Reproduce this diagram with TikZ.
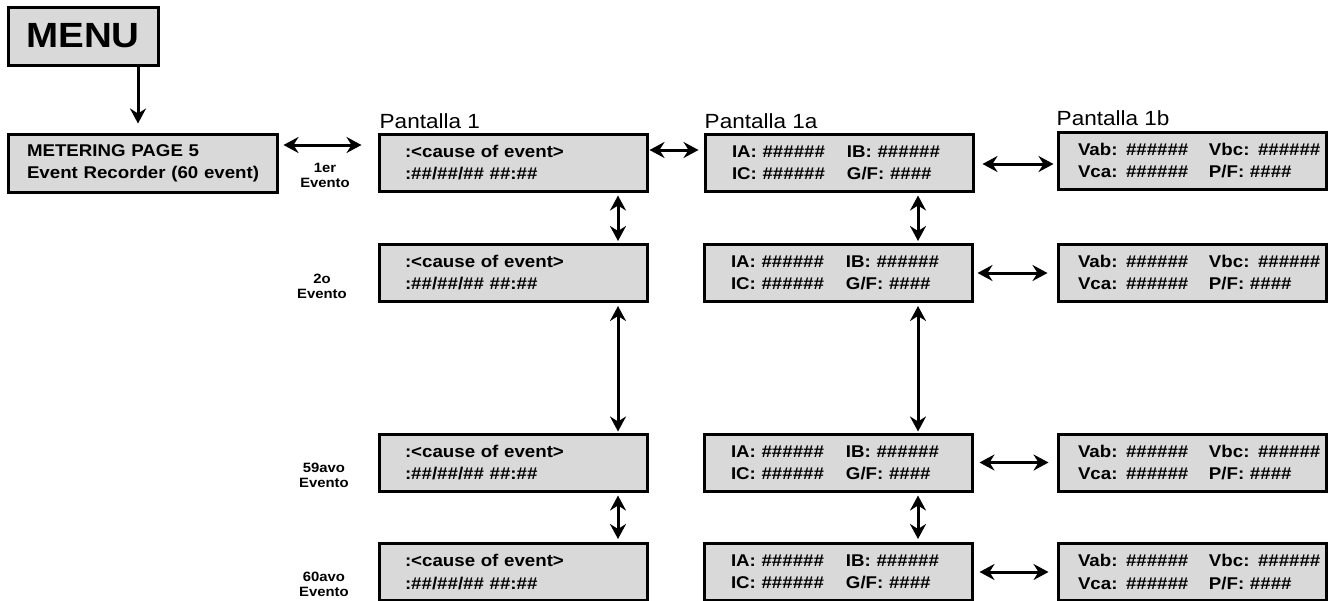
\documentclass[tikz,border=0pt]{standalone}
\usepackage{fontspec}
\setmainfont{Liberation Sans}[FakeStretch=1.1]
\usepackage{tikz}
\usetikzlibrary{arrows.meta}
\usetikzlibrary{positioning}
\definecolor{lcdgray}{RGB}{217,217,217}
\newcommand{\hsix}{\#\#\#\#\#\#}
\newcommand{\hfour}{\#\#\#\#}
\newcommand{\evcause}{:<cause of event>\\:\#\#/\#\#/\#\# \#\#:\#\#}
\newcommand{\evamps}{\makebox[115pt][l]{IA: \hsix}\rlap{IB: \hsix}\\\makebox[115pt][l]{IC: \hsix}\rlap{G/F: \hfour}}
\newcommand{\evvolts}{\makebox[131pt][l]{Vab: \hsix}\rlap{Vbc: \hsix}\\\makebox[131pt][l]{Vca: \hsix}\rlap{P/F: \hfour}}

\begin{document}
\begin{tikzpicture}[x=1pt,y=-1pt]
\tikzstyle{lcd}=[draw, line width=3pt, fill=lcdgray, minimum height=57pt, inner ysep=0pt, align=left, font=\bfseries\fontsize{17}{22}\selectfont]
\tikzstyle{colA}=[lcd, inner xsep=26pt, text width=216pt]
\tikzstyle{colB}=[lcd, inner xsep=27pt, text width=214pt]
\tikzstyle{colC}=[lcd, inner xsep=20pt, text width=228pt]
\tikzstyle{scrlabel}=[anchor=base west, inner sep=0pt, font=\fontsize{20.5}{24}\selectfont]
\tikzstyle{evlabel}=[align=center, inner sep=0pt, font=\bfseries\fontsize{13.5}{15}\selectfont]
\tikzstyle{dbl}=[line width=3pt, {Stealth[length=15pt,width=16pt,inset=5pt]}-{Stealth[length=15pt,width=16pt,inset=5pt]}]
\tikzstyle{one}=[line width=3pt, -{Stealth[length=15pt,width=16pt,inset=5pt]}]
\useasboundingbox (0,0) rectangle (1332,600);

\node[lcd, minimum width=150pt, minimum height=58pt, inner sep=0pt, font=\bfseries\fontsize{35}{38}\selectfont] (menu) at (83,36) {MENU};
\node[lcd, inner xsep=17pt, text width=235pt, minimum height=58pt] (meter) at (142.5,163) {\hspace*{2pt}METERING PAGE 5\\\hspace*{2pt}Event Recorder (60 event)};

\node[colA] (pa1) at (513,162.5) {\evcause};
\node[colA] (pa2) at (513,273) {\evcause};
\node[colA] (pa3) at (513,462.5) {\evcause};
\node[colA] (pa4) at (513,572) {\evcause};

\node[colB] (pb1) at (839,162.5) {\evamps};
\node[colB] (pb2) at (838,273) {\evamps};
\node[colB] (pb3) at (838,462.5) {\evamps};
\node[colB] (pb4) at (838,572) {\evamps};

\node[colC] (pc1) at (1192,160.5) {\evvolts};
\node[colC] (pc2) at (1192,273) {\evvolts};
\node[colC] (pc3) at (1192,462.5) {\evvolts};
\node[colC] (pc4) at (1192,572) {\evvolts};

\node[scrlabel] (lab1) at ([xshift=2pt,yshift=4pt]pa1.north west) {Pantalla 1};
\node[scrlabel] (lab1a) at ([xshift=1pt,yshift=4pt]pb1.north west) {Pantalla 1a};
\node[scrlabel] (lab1b) at ([xshift=0pt,yshift=5pt]pc1.north west) {Pantalla 1b};

\node[evlabel] (ev1) at (325,175.5) {1er\\Evento};
\node[evlabel] (ev2) at (322,286) {2o\\Evento};
\node[evlabel] (ev3) at (324,475.5) {59avo\\Evento};
\node[evlabel] (ev4) at (324,584) {60avo\\Evento};

\draw[one, shorten >=9pt] ([xshift=55pt]menu.south) -- ([xshift=55pt]menu.south |- meter.north);
\draw[dbl, shorten <=5pt, shorten >=16pt] ([yshift=18pt]meter.east) -- ([yshift=18pt]meter.east -| pa1.west);
\draw[dbl, shorten <=1pt, shorten >=5pt] ([yshift=12.5pt]pa1.east) -- ([yshift=12.5pt]pa1.east -| pb1.west);
\draw[dbl, shorten <=8pt, shorten >=3pt] ([yshift=-1.5pt]pb1.east) -- ([yshift=-1.5pt]pb1.east -| pc1.west);
\draw[dbl, shorten <=4pt, shorten >=9pt] (pb2.east) -- (pc2.west);
\draw[dbl, shorten <=6pt, shorten >=8pt] (pb3.east) -- (pc3.west);
\draw[dbl, shorten <=6pt, shorten >=8pt] (pb4.east) -- (pc4.west);

\draw[dbl, shorten <=3pt, shorten >=2pt] ([xshift=105pt]pa1.south) -- ([xshift=105pt]pa2.north);
\draw[dbl, shorten <=3pt, shorten >=1pt] ([xshift=105pt]pa2.south) -- ([xshift=105pt]pa3.north);
\draw[dbl, shorten <=3pt, shorten >=3pt] ([xshift=105pt]pa3.south) -- ([xshift=105pt]pa4.north);
\draw[dbl, shorten <=3pt, shorten >=2pt] ([xshift=79pt]pb1.south) -- ([xshift=80pt]pb2.north);
\draw[dbl, shorten <=3pt, shorten >=1pt] ([xshift=80pt]pb2.south) -- ([xshift=80pt]pb3.north);
\draw[dbl, shorten <=3pt, shorten >=3pt] ([xshift=80pt]pb3.south) -- ([xshift=80pt]pb4.north);
\end{tikzpicture}
\end{document}
